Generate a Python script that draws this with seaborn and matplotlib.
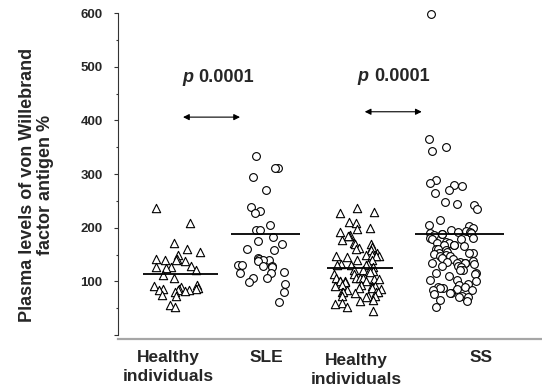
import numpy as np
import pandas as pd
import seaborn as sns
import matplotlib
matplotlib.use("Agg")
import matplotlib.pyplot as plt
from matplotlib.transforms import ScaledTranslation
from matplotlib.ticker import MultipleLocator

# ---------------- data ----------------
groups = ["Healthy (SLE)", "SLE", "Healthy (SS)", "SS"]
tick_labels = ["Healthy\nindividuals", "SLE", "Healthy\nindividuals", "SS"]
kinds = ["healthy", "disease", "healthy", "disease"]

healthy_sle = [236, 209, 171, 160, 155, 150, 141, 141, 140, 139, 138, 128, 127, 126,
               125, 122, 112, 106, 93, 92, 90, 88, 86, 85, 85, 84, 84, 83, 82, 80,
               74, 72, 56, 52]
sle = [333, 312, 311, 294, 271, 238, 231, 228, 205, 196, 195, 183, 176, 169, 161,
       158, 143, 141, 140, 139, 138, 131, 130, 129, 128, 127, 118, 116, 115, 107,
       106, 99, 96, 81, 62]
healthy_ss = [236, 230, 228, 211, 209, 199, 197, 192, 186, 185, 184, 177, 171, 170,
              169, 164, 163, 160, 159, 152, 149, 149, 148, 148, 147, 145, 140, 139,
              132, 132, 131, 130, 130, 126, 121, 121, 120, 120, 118, 114, 113, 107,
              107, 106, 106, 105, 104, 101, 101, 100, 100, 98, 93, 93, 92, 92, 91,
              87, 87, 86, 84, 81, 81, 80, 80, 78, 73, 73, 72, 70, 65, 64, 59, 58,
              53, 45]
ss = [598, 366, 351, 343, 289, 284, 279, 278, 270, 265, 248, 245, 242, 234, 214,
      205, 204, 200, 195, 193, 192, 192, 191, 190, 189, 188, 187, 180, 180, 179,
      178, 173, 172, 171, 168, 168, 167, 166, 161, 160, 159, 154, 153, 153, 152,
      151, 149, 148, 147, 143, 142, 137, 136, 136, 135, 135, 134, 134, 133, 129,
      128, 127, 122, 121, 116, 115, 114, 110, 103, 102, 101, 96, 94, 90, 89, 88,
      88, 85, 84, 83, 79, 78, 77, 72, 71, 70, 66, 64, 53]
center_lines = [113, 189, 124, 189]
p_values = ["0.0001", "0.0001"]
y_ticks = [0, 100, 200, 300, 400, 500, 600]
y_tick_labels = ["", "100", "200", "300", "400", "500", "600"]

# ---------------- layout ----------------
group_x = [0.0, 0.92, 1.95, 2.97]
jitter_w = [0.26, 0.26, 0.26, 0.26]
markers = {"healthy": "^", "disease": "o"}
marker_size = {"healthy": 6.0, "disease": 5.6}
line_spans = [(-0.365, 0.446), (-0.334, 0.405), (-0.332, 0.375), (-0.405, 0.552)]
label_x = [-0.091, 0.962, 1.930, 3.274]
p_pos = [(0.183, 0.231, 480), (2.059, 2.124, 482)]
arrow_pos = [(0.070, 0.683, 406), (2.024, 2.637, 416)]

sns.set_theme(style="white")
plt.rcParams["font.family"] = ["Liberation Sans", "DejaVu Sans"]
plt.rcParams["font.weight"] = "bold"

fig = plt.figure(figsize=(5.42, 3.92), dpi=100)
ax = fig.add_axes([118 / 542, 1 - 339 / 392, 424 / 542, 326 / 392])

rows = []
for name, vals, pos, kind in zip(groups, [healthy_sle, sle, healthy_ss, ss], group_x, kinds):
    for v in vals:
        rows.append({"group": name, "pos": pos, "value": v, "kind": kind})
df = pd.DataFrame(rows)

np.random.seed(7)  # deterministic horizontal jitter only
for i, name in enumerate(groups):
    kind = kinds[i]
    sns.stripplot(data=df[df["group"] == name], x="pos", y="value", native_scale=True,
                  orient="x", jitter=jitter_w[i], marker=markers[kind],
                  size=marker_size[kind], color="white", edgecolor="black",
                  linewidth=0.8, ax=ax, clip_on=False)

for i in range(4):
    ax.hlines(center_lines[i], group_x[i] + line_spans[i][0], group_x[i] + line_spans[i][1],
              color="black", lw=1.3, zorder=5)

for (xp, xn, yv), pv in zip(p_pos, p_values):
    ax.text(xp, yv, "p", style="italic", fontweight="bold", fontsize=13,
            ha="right", va="center")
    ax.text(xn, yv, pv, fontweight="bold", fontsize=13, ha="left", va="center")

for x0, x1, yv in arrow_pos:
    ax.annotate("", xy=(x1, yv), xytext=(x0, yv),
                arrowprops=dict(arrowstyle="<|-|>", color="black", lw=0.8,
                                mutation_scale=9, shrinkA=0, shrinkB=0))

ax.set_xlim(-0.629, 3.930)
ax.set_ylim(-7.4, 600)
ax.set_yticks(y_ticks, y_tick_labels)
ax.yaxis.set_minor_locator(MultipleLocator(50))
ax.tick_params(axis="y", which="major", left=True, length=3, width=0.8,
               color="#333333", pad=8, labelsize=9.5)
ax.tick_params(axis="y", which="minor", left=True, length=1.5, width=0.8, color="#333333")
for t in ax.get_yticklabels():
    t.set_fontweight("bold")

ax.set_xticks(label_x, tick_labels)
ax.tick_params(axis="x", length=0, pad=8, labelsize=12.5)
for t in ax.get_xticklabels():
    t.set_fontweight("bold")
    t.set_linespacing(1.3)
lab = ax.get_xticklabels()[2]
lab.set_transform(lab.get_transform() + ScaledTranslation(0, -3 / 100, fig.dpi_scale_trans))

ax.set_xlabel("")
ax.set_ylabel("Plasma levels of von Willebrand\nfactor antigen %", fontsize=13,
              fontweight="bold", linespacing=1.05)
ax.yaxis.set_label_coords(-0.152, 0.472)

for s in ["top", "right"]:
    ax.spines[s].set_visible(False)
ax.spines["left"].set_bounds(0, 600)
ax.spines["left"].set_color("#333333")
ax.spines["left"].set_linewidth(0.8)
ax.spines["bottom"].set_color("#a6a6a6")
ax.spines["bottom"].set_linewidth(1.6)

fig.savefig("out.png", dpi=100)
